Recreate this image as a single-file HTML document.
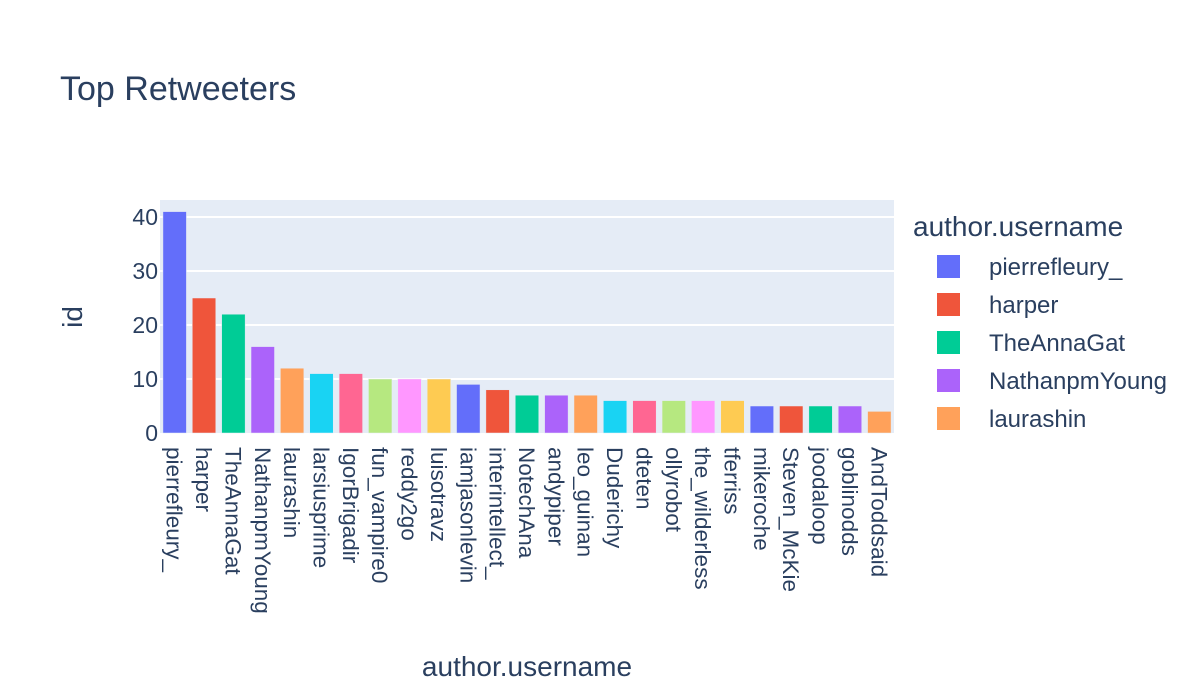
<!DOCTYPE html>
<html><head><meta charset="utf-8"><style>body{margin:0;background:#fff}svg{display:block;font-family:"Liberation Sans",Arial,sans-serif}</style></head>
<body>
<svg id="chart" width="1200" height="700">
<text x="60" y="100" font-size="34" fill="#2a3f5f">Top Retweeters</text>
<rect x="160" y="200" width="734" height="233" fill="#e5ecf6"/>
<g id="grid"></g><g id="bars"></g><g id="xticks"></g><g id="yticks"></g>
<text x="527" y="676" font-size="28" fill="#2a3f5f" text-anchor="middle">author.username</text>
<text transform="translate(82,317) rotate(-90)" font-size="28" fill="#2a3f5f" text-anchor="middle">id</text>
<text x="913" y="236" font-size="28" fill="#2a3f5f">author.username</text>
<g id="legend"></g>
</svg>
<script>
const categories=["pierrefleury_","harper","TheAnnaGat","NathanpmYoung","laurashin","larsiusprime","IgorBrigadir","fun_vampire0","reddy2go","luisotravz","iamjasonlevin","interintellect_","NotechAna","andypiper","leo_guinan","Duderichy","dteten","ollyrobot","the_wilderless","tferriss","mikeroche","Steven_McKie","joodaloop","goblinodds","AndToddsaid"];
const values=[41,25,22,16,12,11,11,10,10,10,9,8,7,7,7,6,6,6,6,6,5,5,5,5,4];
const yTicks=[0,10,20,30,40];
const colors=["#636efa","#EF553B","#00cc96","#ab63fa","#FFA15A","#19d3f3","#FF6692","#B6E880","#FF97FF","#FECB52"];
const NS="http://www.w3.org/2000/svg";
const X0=160,W=734,Y0=433,PX=5.4;
const slot=W/categories.length;
const y=v=>Y0-v*PX;
const xc=i=>X0+slot*(i+0.5);
function mk(t,a,p,txt){const e=document.createElementNS(NS,t);for(const k in a)e.setAttribute(k,a[k]);if(txt!==undefined)e.textContent=txt;document.getElementById(p).appendChild(e);return e;}
yTicks.forEach(t=>{
 if(t>0){const g=mk("line",{x1:X0,x2:X0+W,y1:y(t),y2:y(t),stroke:"#fff","stroke-width":2},"grid");
 
 }
 const l=mk("text",{x:X0-2,y:y(t)+8,"font-size":23,fill:"#2a3f5f","text-anchor":"end"},"yticks",String(t));
 
 
});
categories.forEach((c,i)=>{
 const bw=slot*0.8;
 const r=mk("rect",{x:xc(i)-bw/2,y:y(values[i]),width:bw,height:values[i]*PX,fill:colors[i%10],stroke:"#e5ecf6","stroke-width":0.5},"bars");
 
 
 const t=mk("text",{transform:`translate(${xc(i)-8},447) rotate(90)`,"font-size":22.5,fill:"#2a3f5f"},"xticks",c);
 
 
});
for(let i=0;i<5;i++){
 const ly=266+i*38;
 const s=mk("rect",{x:937,y:ly-11,width:23,height:23,fill:colors[i]},"legend");
 
 
 const t=mk("text",{x:989,y:ly+9,"font-size":24,fill:"#2a3f5f"},"legend",categories[i]);
 
 
}
</script>
</body></html>
